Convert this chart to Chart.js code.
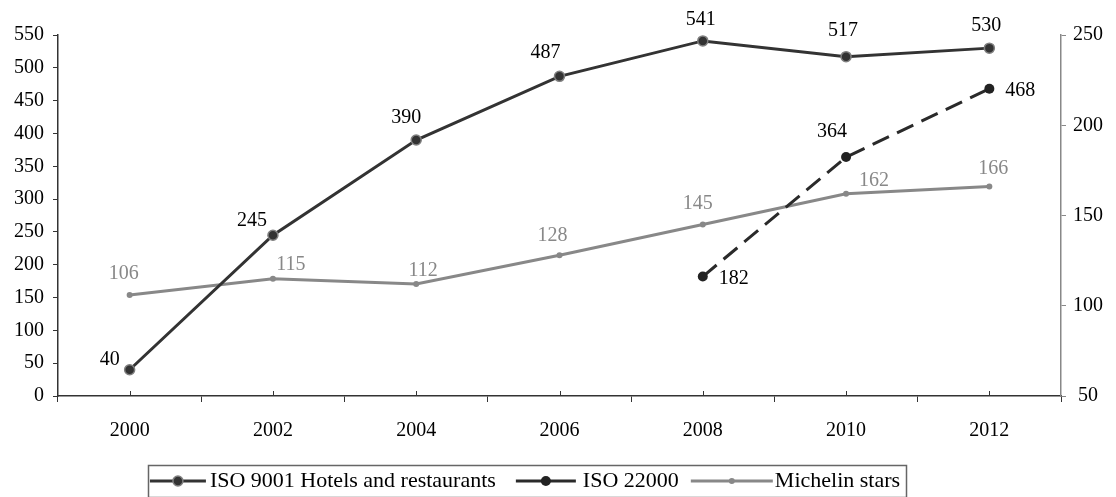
<!DOCTYPE html>
<html><head><meta charset="utf-8">
<script src="https://cdn.jsdelivr.net/npm/chart.js@4/dist/chart.umd.min.js"></script>
<style>html,body{margin:0;padding:0;background:#fff;overflow:hidden}#wrap{width:1116px;height:497px}</style>
</head><body><div id="wrap"><canvas id="c" width="1116" height="497"></canvas></div>
<script>
// ---- data ----
const years = ['2000', '2002', '2004', '2006', '2008', '2010', '2012'];
const iso9001 = [40, 245, 390, 487, 541, 517, 530];
const iso22000 = [null, null, null, null, 182, 364, 468];
const michelin = [106, 115, 112, 128, 145, 162, 166];
const seriesNames = ['ISO 9001 Hotels and restaurants', 'ISO 22000', 'Michelin stars'];
const leftAxisRange = [0, 550, 50];
const rightAxisRange = [50, 250, 50];

// ---- style ----
const FONT = '"Liberation Serif", "Times New Roman", serif';
const labelOffsets = [
  [[-20, -10], [-21, -14], [-10, -22], [-14, -24], [-2, -21], [-3, -26], [-3, -22]],
  [null, null, null, null, [31, 2], [-14, -25], [31, 2]],
  [[-6, -21], [18, -14], [7, -13], [-7, -19], [-5, -21], [28, -13], [4, -18]]
];
const labelColors = ['#000', '#000', '#888'];
const legendLayout = { sampleLen: [56, 60, 82], gapAfterSample: [4, 7, 2], gapAfterText: [20, 12, 0], centerX: 525, y: 481, box: [148, 465, 906, 497] };

const dataLabelPlugin = {
  id: 'dataLabels',
  afterDatasetsDraw(chart) {
    const ctx = chart.ctx;
    ctx.save();
    ctx.font = '20px ' + FONT;
    ctx.textAlign = 'center';
    ctx.textBaseline = 'middle';
    chart.data.datasets.forEach((ds, di) => {
      const meta = chart.getDatasetMeta(di);
      meta.data.forEach((el, i) => {
        const v = ds.data[i];
        if (v === null || v === undefined) return;
        const off = labelOffsets[di][i] || [0, -20];
        ctx.fillStyle = labelColors[di];
        ctx.fillText(String(v), el.x + off[0], el.y + off[1]);
      });
    });
    ctx.restore();
  }
};

const axisTickPlugin = {
  id: 'axisTicks',
  afterDraw(chart) {
    const ctx = chart.ctx;
    const xs = chart.scales.x;
    const bottom = chart.chartArea.bottom;
    ctx.save();
    ctx.strokeStyle = '#333';
    ctx.lineWidth = 1;
    for (let i = 0; i < years.length; i++) {
      const x = Math.round(xs.getPixelForValue(i)) + 0.5;
      ctx.beginPath();
      ctx.moveTo(x, bottom);
      ctx.lineTo(x, bottom - 5);
      ctx.stroke();
    }
    ctx.restore();
  }
};

function drawMarker(ctx, ds, x, y) {
  const r = ds.pointRadius;
  ctx.beginPath();
  ctx.arc(x, y, r, 0, Math.PI * 2);
  ctx.fillStyle = ds.pointBackgroundColor;
  ctx.fill();
  if (ds.pointBorderWidth) {
    ctx.lineWidth = ds.pointBorderWidth;
    ctx.strokeStyle = ds.pointBorderColor;
    ctx.stroke();
  }
}

const legendPlugin = {
  id: 'customLegend',
  afterDraw(chart) {
    const ctx = chart.ctx;
    const L = legendLayout;
    ctx.save();
    ctx.font = '22px ' + FONT;
    const widths = chart.data.datasets.map(ds => ctx.measureText(ds.label).width);
    let total = 0;
    widths.forEach((w, i) => { total += L.sampleLen[i] + L.gapAfterSample[i] + w + L.gapAfterText[i]; });
    let x = L.centerX - total / 2;
    ctx.strokeStyle = '#666';
    ctx.lineWidth = 1.5;
    ctx.strokeRect(L.box[0] + 0.5, L.box[1] + 0.5, L.box[2] - L.box[0], L.box[3] - L.box[1]);
    chart.data.datasets.forEach((ds, i) => {
      const len = L.sampleLen[i];
      ctx.beginPath();
      ctx.setLineDash([]);
      ctx.strokeStyle = ds.borderColor;
      ctx.lineWidth = ds.borderWidth;
      ctx.moveTo(x, L.y);
      ctx.lineTo(x + len, L.y);
      ctx.stroke();
      drawMarker(ctx, ds, x + len / 2, L.y);
      x += len + L.gapAfterSample[i];
      ctx.fillStyle = '#000';
      ctx.textAlign = 'left';
      ctx.textBaseline = 'middle';
      ctx.fillText(ds.label, x, L.y);
      x += widths[i] + L.gapAfterText[i];
    });
    ctx.restore();
  }
};

const chart = new Chart(document.getElementById('c'), {
  type: 'line',
  data: {
    labels: years,
    datasets: [
      {
        label: seriesNames[0], data: iso9001, yAxisID: 'y',
        borderColor: '#333', borderWidth: 3,
        pointRadius: 5, pointBackgroundColor: '#333', pointBorderColor: '#808080', pointBorderWidth: 1.5,
        tension: 0, fill: false
      },
      {
        label: seriesNames[1], data: iso22000, yAxisID: 'y',
        borderColor: '#2a2a2a', borderWidth: 3, borderDash: [18, 9],
        pointRadius: 5, pointBackgroundColor: '#222', pointBorderColor: '#222', pointBorderWidth: 0,
        tension: 0, fill: false, spanGaps: false
      },
      {
        label: seriesNames[2], data: michelin, yAxisID: 'y1',
        borderColor: '#888', borderWidth: 3,
        pointRadius: 3, pointBackgroundColor: '#888', pointBorderColor: '#888', pointBorderWidth: 0,
        tension: 0, fill: false
      }
    ]
  },
  options: {
    responsive: false,
    devicePixelRatio: 1,
    animation: false,
    layout: { padding: { top: 35, left: 0, right: 0, bottom: 51 } },
    plugins: { legend: { display: false }, tooltip: { enabled: false } },
    scales: {
      x: {
        type: 'category', offset: true,
        grid: { offset: true, drawOnChartArea: false, drawTicks: true, tickLength: 6, color: '#333', lineWidth: 1 },
        border: { color: '#333', width: 1.5 },
        ticks: { color: '#000', font: { family: FONT, size: 20 }, padding: 17, maxRotation: 0, autoSkip: false },
        afterFit(s) { s.height = 50; }
      },
      y: {
        position: 'left', min: leftAxisRange[0], max: leftAxisRange[1],
        grid: { drawOnChartArea: false, drawTicks: true, tickLength: 5, color: '#333' },
        border: { color: '#333', width: 1.5 },
        ticks: { stepSize: leftAxisRange[2], color: '#000', font: { family: FONT, size: 20 }, padding: 9 },
        afterFit(s) { s.width = 58; }
      },
      y1: {
        position: 'right', min: rightAxisRange[0], max: rightAxisRange[1],
        grid: { drawOnChartArea: false, drawTicks: true, tickLength: 5, color: '#888' },
        border: { color: '#888', width: 1.5 },
        ticks: { stepSize: rightAxisRange[2], color: '#000', font: { family: FONT, size: 20 }, padding: 7, crossAlign: 'center' },
        afterFit(s) { s.width = 55; }
      }
    }
  },
  plugins: [dataLabelPlugin, axisTickPlugin, legendPlugin]
});
</script>
</body></html>
